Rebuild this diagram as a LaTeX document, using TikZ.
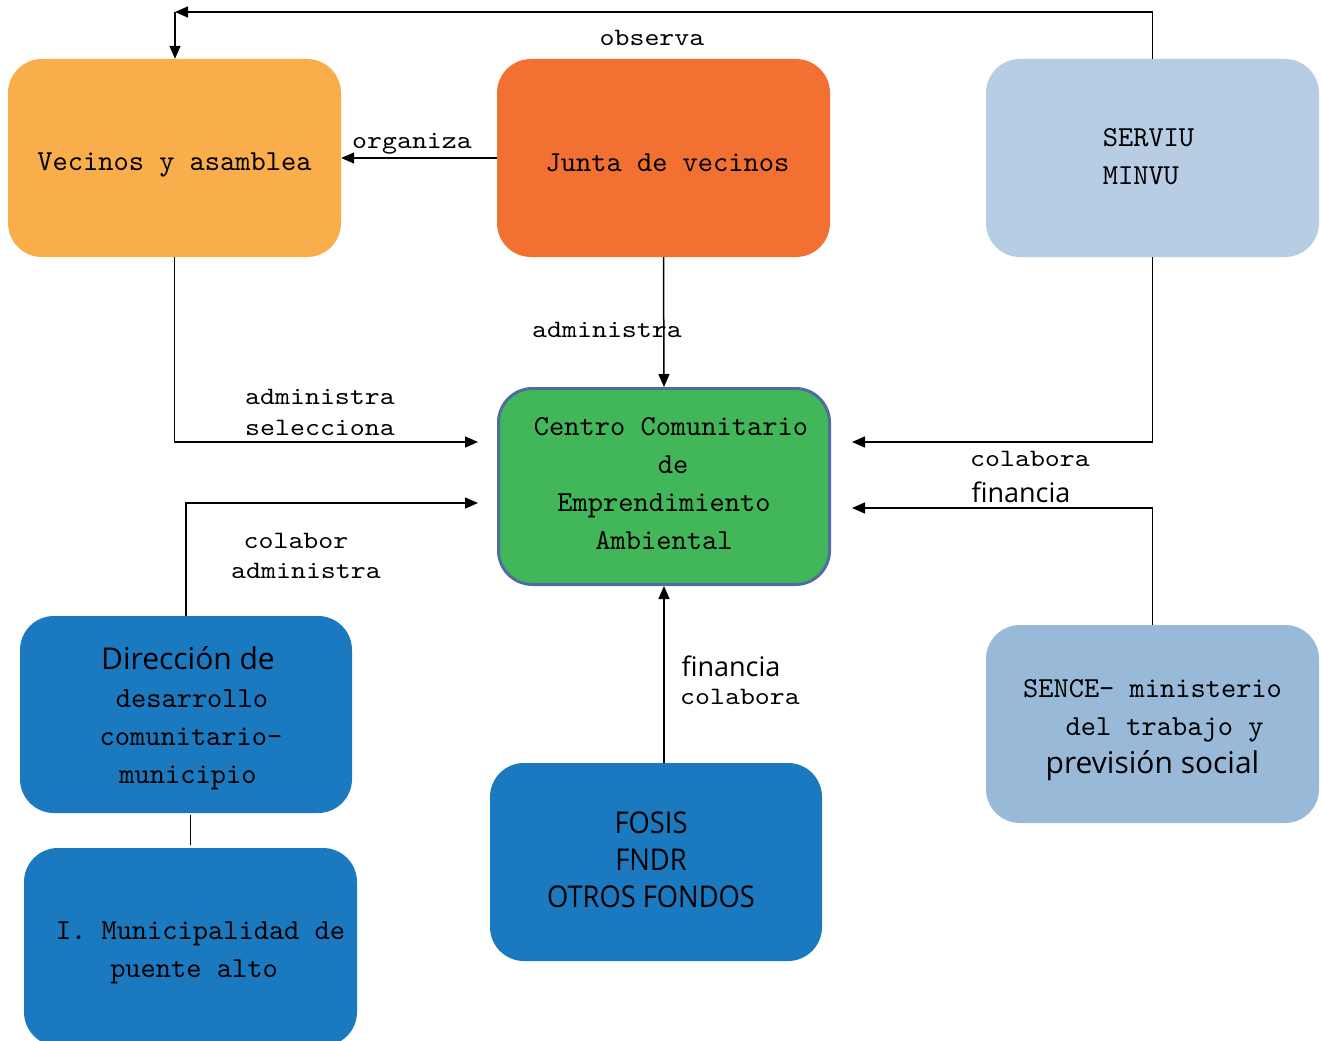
\documentclass[tikz,border=0pt]{standalone}
\usepackage{fontspec}
\usetikzlibrary{arrows.meta,calc}
\newfontfamily\boxmonofam{lmmono10-regular.otf}
\newfontfamily\lblmonofam[FakeStretch=1.14]{lmmono10-regular.otf}
\newfontfamily\sansfam{Open Sans}
\newfontfamily\sanscondfam[FakeStretch=0.91]{Open Sans}
\newcommand\boxtxt{\boxmonofam\fontsize{29}{38}\selectfont}
\newcommand\lbltxt{\lblmonofam\fontsize{25}{31}\selectfont}
\newcommand\sanstxt{\sansfam\fontsize{30}{38}\selectfont}
\newcommand\sanslbl{\sansfam\fontsize{27}{31}\selectfont}
\newcommand\sanscond{\sanscondfam\fontsize{30}{37}\selectfont}
\definecolor{cVec}{HTML}{F9AD4B}
\definecolor{cJun}{HTML}{F37033}
\definecolor{cSer}{HTML}{B6CDE4}
\definecolor{cCen}{HTML}{42B75A}
\definecolor{cCenB}{HTML}{4C6EA3}
\definecolor{cBlue}{HTML}{1A79BF}
\definecolor{cSen}{HTML}{98BAD8}
\tikzset{
  box/.style={rounded corners=34pt, minimum width=333pt, minimum height=198pt, inner sep=0pt},
  btxt/.style={inner sep=0pt, align=center, font=\boxtxt, text=black},
  arr/.style={-{Triangle[length=13pt,width=11pt]}, line width=1.5pt, black},
  ln/.style={line width=1.5pt, black},
  lbl/.style={font=\lbltxt, inner sep=0pt, align=center},
  slbl/.style={font=\sanslbl, inner sep=0pt, align=center}
}
\begin{document}
\begin{tikzpicture}[x=1pt,y=-1pt]
\useasboundingbox (0,0) rectangle (1322,1041);
\clip (0,0) rectangle (1322,1041);
\fill[white] (0,0) rectangle (1322,1041);
% boxes
\node[box, fill=cVec] (vec) at (174.5,158) {};
\node[box, fill=cJun] (jun) at (663.5,158) {};
\node[box, fill=cSer] (ser) at (1152.5,158) {};
\node[box, fill=cCen, draw=cCenB, line width=3pt, minimum width=331pt, minimum height=196pt] (cen) at (664,486.5) {};
\node[box, fill=cBlue, minimum width=332pt, minimum height=197pt] (dir) at (186,714.5) {};
\node[box, fill=cBlue] (muni) at (190.5,947) {};
\node[box, fill=cBlue, minimum width=332pt] (fos) at (656,862) {};
\node[box, fill=cSen] (sen) at (1152.5,724) {};
% box texts
\node[btxt] (vecT) at (174.5,165) {Vecinos y asamblea};
\node[btxt] (junT) at (667.5,163) {Junta de vecinos};
\node[btxt, align=left] (serT) at (1148.5,157) {SERVIU\\MINVU};
\node[btxt] (cenT) at (664,483.5)
  {\hspace*{14pt}Centro Comunitario\\\hspace*{18pt}de\\Emprendimiento\hspace*{28pt}\\Ambiental};
\node[btxt] (dirT) at (188,718.5)
  {{\sanstxt Direcci\'on de}\\\hspace*{8pt}desarrollo\\\hspace*{6pt}comunitario-\\municipio};
\node[btxt] (muniT) at (190.5,953)
  {\hspace*{20pt}I. Municipalidad de\\\hspace*{7pt}puente alto};
\node[btxt, font=\sanscond] (fosT) at (651,860) {FOSIS\\FNDR\\OTROS FONDOS};
\node[btxt] (senT) at (1152.5,730)
  {SENCE- ministerio\\\hspace*{24pt}del trabajo y\\{\sanstxt previsi\'on social}};
% coordinates
\coordinate (top) at (175,12);
\coordinate (inL1) at (478,442);
\coordinate (inL2) at (478,503);
\coordinate (inR1) at (852,442);
\coordinate (inR2) at (852,508);
% connectors
\draw[arr] (ser.north) |- (top);
\draw[arr] (top) -- (vec.north -| top);
\draw[arr] (jun.west) -- (vec.east);
\draw[arr] (jun.south) -- (cen.north);
\draw[arr] (vec.south) |- (inL1);
\draw[arr] (dir.north) |- (inL2);
\draw[arr] (ser.south) |- (inR1);
\draw[arr] (sen.north) |- (inR2);
\draw[arr] (fos.north -| cen.south) -- (cen.south);
\draw[ln, shorten <=2pt, shorten >=3pt] (muni.north |- dir.south) -- (muni.north);
% labels
\node[lbl] (lobs) at (652,38) {observa};
\node[lbl] (lorg) at (412,144) {organiza};
\node[lbl] (ladm) at (607,330) {administra};
\node[lbl] (ladm2) at (320,412.5) {administra\\selecciona};
\node[lbl] (lcol) at (296,541) {colabor};
\node[lbl] (ladm3) at (306,571) {administra};
\node[lbl] (lcol2) at (1030,459) {colabora};
\node[slbl] (lfin) at (1021,492) {financia};
\node[slbl] (lfin2) at (731,666) {financia};
\node[lbl] (lcol3) at (740,697) {colabora};
\end{tikzpicture}
\end{document}
